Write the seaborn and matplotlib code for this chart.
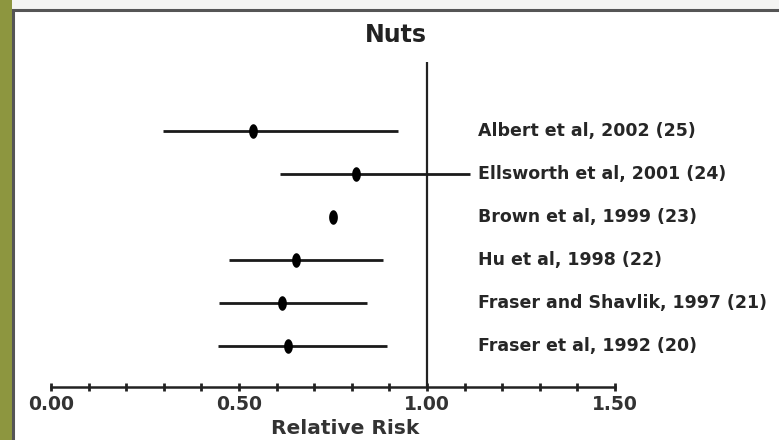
import numpy as np
import matplotlib
matplotlib.use("Agg")
import matplotlib.pyplot as plt
from matplotlib.patches import Rectangle
from matplotlib.ticker import MultipleLocator, FixedLocator
import seaborn as sns
import pandas as pd

# ---- data ----
studies = [
    "Albert et al, 2002 (25)",
    "Ellsworth et al, 2001 (24)",
    "Brown et al, 1999 (23)",
    "Hu et al, 1998 (22)",
    "Fraser and Shavlik, 1997 (21)",
    "Fraser et al, 1992 (20)",
]
rr = [0.536, 0.811, 0.749, 0.651, 0.614, 0.631]
ci_low = [0.299, 0.609, np.nan, 0.474, 0.448, 0.445]
ci_high = [0.924, 1.114, np.nan, 0.884, 0.840, 0.894]
x_ticks = [0.0, 0.5, 1.0, 1.5]

df = pd.DataFrame({"study": studies, "rr": rr, "lo": ci_low, "hi": ci_high})
df["row"] = np.arange(len(df))

sns.set_theme(style="white")
plt.rcParams["font.family"] = ["DejaVu Sans"]

W, H = 779, 440
fig = plt.figure(figsize=(W / 100, H / 100), dpi=100)
fig.patch.set_facecolor("#f4f4f2")

# olive strip + white panel with grey frame
fig.add_artist(Rectangle((0, 0), 12 / W, 1, transform=fig.transFigure,
                         facecolor="#8d963f", edgecolor="none", zorder=0))
fig.add_artist(Rectangle((13 / W, -0.02), 1, (H - 10) / H + 0.02, transform=fig.transFigure,
                         facecolor="white", edgecolor="#555555", linewidth=2.2, zorder=0))

# axes placed so 0 -> 51px, 1.5 -> 615px, baseline at 387px, top at 62px
left, right = 51 / W, 615 / W
bottom, top = (H - 387) / H, (H - 62) / H
ax = fig.add_axes([left, bottom, right - left, top - bottom])
ax.set_facecolor("none")

# confidence intervals
ci = df.dropna()
ax.hlines(ci["row"], ci["lo"], ci["hi"], color="#1a1a1a", linewidth=2.0, zorder=2)

# elongated dot markers
t = np.linspace(0, 2 * np.pi, 40)
ell = np.column_stack([0.6 * np.cos(t), np.sin(t)])
sns.scatterplot(data=df, x="rr", y="row", marker=ell, s=110, color="black",
                edgecolor="black", linewidth=0, ax=ax, zorder=3, legend=False)

# reference line at 1
ax.axvline(1.0, color="#222222", linewidth=1.6, zorder=1)

# study labels to the right
for r, name in zip(df["row"], df["study"]):
    ax.text(1.136, r, name, ha="left", va="center", fontsize=12.5,
            fontweight="bold", color="#262626", clip_on=False)

ax.set_xlim(0, 1.5)
ax.set_ylim((387 - 131) / 43, (62 - 131) / 43)
ax.set_yticks([])
ax.xaxis.set_major_locator(FixedLocator(x_ticks))
ax.xaxis.set_minor_locator(MultipleLocator(0.1))
ax.set_xticklabels([f"{v:.2f}" for v in x_ticks])
ax.tick_params(axis="x", which="both", direction="inout", length=6, width=2,
               color="#222222", bottom=True, pad=3)
ax.tick_params(axis="x", which="major", labelsize=13.5, labelcolor="#333333")
for lab in ax.get_xticklabels():
    lab.set_fontweight("bold")
for s in ["top", "right", "left"]:
    ax.spines[s].set_visible(False)
ax.spines["bottom"].set_color("#222222")
ax.spines["bottom"].set_linewidth(1.8)
ax.set_xlabel("")
ax.set_ylabel("")

fig.text(396 / W, 1 - 35 / H, "Nuts", ha="center", va="center",
         fontsize=17, fontweight="bold", color="#222222")
fig.text(345 / W, 1 - 428 / H, "Relative Risk", ha="center", va="center",
         fontsize=14.5, fontweight="bold", color="#333333")

fig.savefig("out.png", dpi=100)
